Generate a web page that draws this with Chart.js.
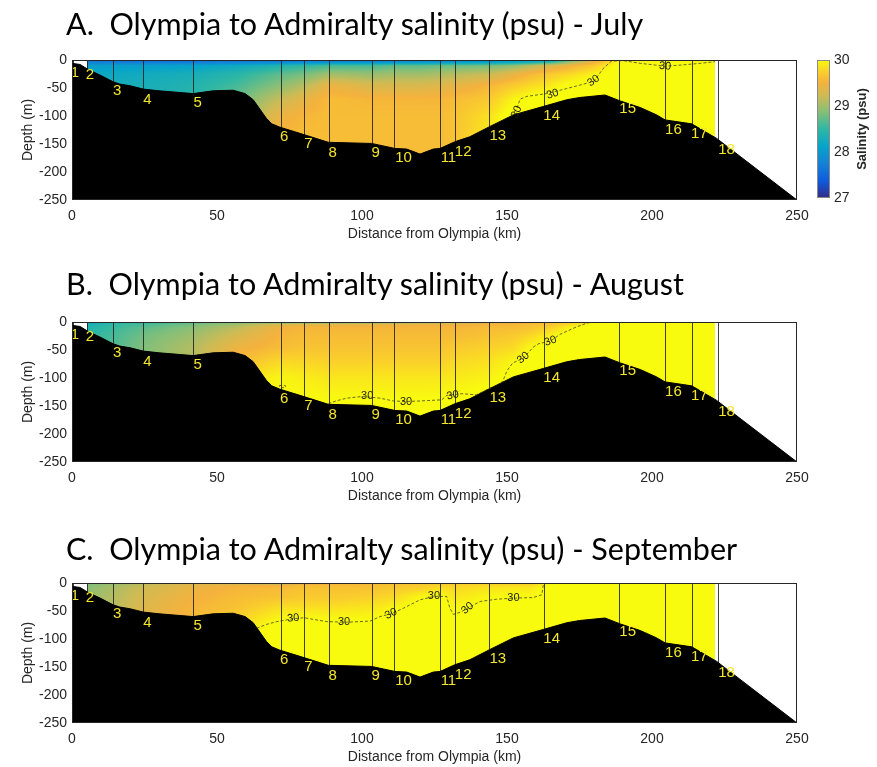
<!DOCTYPE html>
<html>
<head>
<meta charset="utf-8">
<script src="https://cdn.jsdelivr.net/npm/chart.js@4.4.1/dist/chart.umd.min.js"></script>
<style>
  html, body { margin: 0; padding: 0; background: #fff; width: 877px; height: 767px; overflow: hidden; }
  canvas { position: absolute; left: 0; }
  .title { position: absolute; left: 66px; font-family: Lato, "Open Sans", sans-serif; font-size: 30.5px;
           line-height: 40px; color: #000; white-space: pre; z-index: 2; }
</style>
</head>
<body>
<canvas id="julyChart" width="877" height="250" style="top:0px"></canvas>
<canvas id="augustChart" width="877" height="250" style="top:262px"></canvas>
<canvas id="septemberChart" width="877" height="250" style="top:523px"></canvas>
<canvas id="salinityBar" width="97" height="250" style="top:0px; left:780px"></canvas>
<div class="title" style="top:3px">A.  Olympia to Admiralty salinity (psu) - July</div>
<div class="title" style="top:263px">B.  Olympia to Admiralty salinity (psu) - August</div>
<div class="title" style="top:528px">C.  Olympia to Admiralty salinity (psu) - September</div>
<script>
// ---- Section geometry -------------------------------------------------------
const seabedKm    = [0, 2.8, 5.6, 9.7, 14.2, 16.5, 20, 24.6, 30, 41.8, 48.7, 55.6, 59.7, 62.5, 67, 68.9, 71.7, 78.6,
                     88.4, 103.3, 111.4, 115.4, 120, 124.6, 126.9, 132, 137.2, 144, 152.2, 162.5, 170.6, 175,
                     183.8, 189, 196, 201.6, 204.5, 213.7, 222.3, 250];
const seabedDepth = [-6, -8, -17, -27, -39, -43, -46, -52, -55, -60, -55, -54, -60, -71, -104, -114, -120, -131,
                     -147, -149, -158, -159, -168, -159, -158, -146, -137, -119, -98, -83, -71, -67,
                     -62.5, -73, -85, -98, -107, -114, -140, -250];

// CTD stations along the transect
const stationNames      = ['1','2','3','4','5','6','7','8','9','10','11','12','13','14','15','16','17','18'];
const stationKm         = [0.3, 5.1, 14.3, 24.6, 41.8, 72.1, 80, 88.6, 103.3, 111.2, 127, 132, 143.9, 162.8, 188.7, 204.5, 213.8, 222.9];
const stationLabelKm    = [1, 6.2, 15.6, 26, 43.3, 73.2, 81.5, 89.9, 104.7, 114.3, 129.8, 134.9, 146.8, 165.4, 191.6, 207.4, 216.3, 225.7];
const stationLabelDepth = [-23, -27, -55, -71, -76, -138, -150, -165, -165, -174, -174, -164, -136, -100, -88, -125, -132, -160];

// Extent of the gridded salinity section (km)
const sectionStartKm = 5.2;
const sectionEndKm   = 221.7;

// ---- Salinity profiles (psu) -----------------------------------------------
// One profile per grid distance, values at each depth level.
const depthLevels = [0, 4, 10, 25, 45, 70, 100, 130, 170];
const gridKm      = [5, 14, 25, 42, 57, 72, 80, 89, 103, 111, 120, 127, 132, 144, 152, 158, 165, 172, 180, 188, 222];

const salinityJuly = [
  [27.6, 27.75, 28.05, 28.2, 28.2, 28.2, 28.2, 28.2, 28.2],
  [27.55, 27.7, 28.05, 28.2, 28.3, 28.3, 28.3, 28.3, 28.3],
  [27.55, 27.7, 28.05, 28.25, 28.3, 28.3, 28.3, 28.3, 28.3],
  [27.55, 27.7, 28.1, 28.3, 28.4, 28.45, 28.45, 28.45, 28.45],
  [27.55, 27.75, 28.2, 28.45, 28.6, 28.75, 28.9, 29.0, 29.0],
  [27.6, 27.8, 28.4, 28.7, 28.9, 29.2, 29.45, 29.55, 29.55],
  [27.6, 27.85, 28.5, 28.8, 29.1, 29.4, 29.55, 29.6, 29.6],
  [27.65, 27.9, 28.6, 29.0, 29.45, 29.6, 29.6, 29.6, 29.6],
  [27.65, 27.9, 28.6, 28.95, 29.3, 29.55, 29.6, 29.6, 29.6],
  [27.65, 27.95, 28.7, 29.0, 29.3, 29.55, 29.6, 29.6, 29.6],
  [27.7, 28.0, 28.7, 29.0, 29.3, 29.55, 29.6, 29.6, 29.6],
  [27.7, 28.0, 28.75, 29.05, 29.35, 29.55, 29.6, 29.6, 29.6],
  [27.7, 28.05, 28.75, 29.1, 29.4, 29.6, 29.65, 29.65, 29.65],
  [27.8, 28.1, 28.8, 29.2, 29.55, 29.7, 29.85, 29.9, 29.9],
  [27.9, 28.2, 28.9, 29.4, 29.7, 29.95, 30.1, 30.1, 30.1],
  [28.0, 28.3, 29.1, 29.55, 29.8, 30.05, 30.1, 30.1, 30.1],
  [28.0, 28.5, 29.3, 29.7, 29.9, 30.1, 30.1, 30.1, 30.1],
  [28.6, 29.0, 29.5, 29.8, 30.05, 30.1, 30.1, 30.1, 30.1],
  [29.3, 29.5, 29.7, 29.95, 30.1, 30.1, 30.1, 30.1, 30.1],
  [29.9, 29.97, 30.05, 30.1, 30.1, 30.1, 30.1, 30.1, 30.1],
  [29.97, 30.0, 30.05, 30.1, 30.1, 30.1, 30.1, 30.1, 30.1]
];

const salinityAugust = [
  [28.2, 28.3, 28.4, 28.5, 28.5, 28.5, 28.5, 28.5, 28.5],
  [28.4, 28.5, 28.55, 28.6, 28.65, 28.65, 28.65, 28.65, 28.65],
  [28.5, 28.6, 28.7, 28.8, 28.85, 28.85, 28.85, 28.85, 28.85],
  [28.7, 28.8, 28.9, 29.0, 29.1, 29.1, 29.1, 29.1, 29.1],
  [28.8, 29.0, 29.15, 29.3, 29.45, 29.6, 29.85, 29.95, 29.95],
  [28.4, 29.3, 29.5, 29.55, 29.6, 29.8, 29.97, 30.0, 30.05],
  [28.5, 29.35, 29.55, 29.6, 29.65, 29.78, 29.92, 29.98, 30.05],
  [28.5, 29.35, 29.55, 29.6, 29.65, 29.75, 29.88, 29.97, 30.05],
  [28.55, 29.4, 29.55, 29.6, 29.65, 29.75, 29.88, 29.97, 30.1],
  [28.6, 29.4, 29.55, 29.6, 29.65, 29.75, 29.88, 29.97, 30.1],
  [28.65, 29.45, 29.55, 29.6, 29.65, 29.75, 29.88, 29.97, 30.1],
  [28.7, 29.45, 29.55, 29.6, 29.65, 29.75, 29.88, 29.98, 30.1],
  [28.8, 29.45, 29.55, 29.6, 29.7, 29.8, 29.9, 30.0, 30.1],
  [29.1, 29.5, 29.6, 29.65, 29.75, 29.85, 29.95, 30.05, 30.1],
  [29.35, 29.55, 29.6, 29.7, 29.8, 29.97, 30.05, 30.1, 30.1],
  [29.5, 29.6, 29.65, 29.8, 29.97, 30.05, 30.1, 30.1, 30.1],
  [29.6, 29.65, 29.75, 29.95, 30.05, 30.1, 30.1, 30.1, 30.1],
  [29.7, 29.8, 29.97, 30.05, 30.1, 30.1, 30.1, 30.1, 30.1],
  [29.95, 30.0, 30.05, 30.1, 30.1, 30.1, 30.1, 30.1, 30.1],
  [30.05, 30.05, 30.1, 30.1, 30.1, 30.1, 30.1, 30.1, 30.1],
  [30.05, 30.05, 30.1, 30.1, 30.1, 30.1, 30.1, 30.1, 30.1]
];

const salinitySeptember = [
  [28.8, 28.85, 28.9, 28.95, 28.95, 28.95, 28.95, 28.95, 28.95],
  [28.9, 29.0, 29.05, 29.1, 29.1, 29.1, 29.1, 29.1, 29.1],
  [29.1, 29.2, 29.25, 29.3, 29.35, 29.35, 29.35, 29.35, 29.35],
  [29.3, 29.4, 29.45, 29.5, 29.55, 29.6, 29.6, 29.6, 29.6],
  [29.0, 29.5, 29.55, 29.6, 29.65, 29.8, 29.95, 30.0, 30.0],
  [28.7, 29.5, 29.6, 29.65, 29.85, 30.02, 30.1, 30.1, 30.1],
  [29.2, 29.6, 29.65, 29.7, 29.85, 30.05, 30.1, 30.1, 30.1],
  [29.5, 29.6, 29.65, 29.7, 29.85, 30.02, 30.1, 30.1, 30.1],
  [29.55, 29.6, 29.65, 29.75, 29.88, 30.03, 30.1, 30.1, 30.1],
  [29.6, 29.65, 29.7, 29.8, 29.97, 30.05, 30.1, 30.1, 30.1],
  [29.6, 29.7, 29.75, 29.98, 30.05, 30.1, 30.1, 30.1, 30.1],
  [29.65, 29.75, 29.85, 30.02, 30.05, 30.1, 30.1, 30.1, 30.1],
  [29.7, 29.75, 29.8, 29.88, 29.97, 30.05, 30.1, 30.1, 30.1],
  [29.7, 29.8, 29.88, 29.98, 30.05, 30.1, 30.1, 30.1, 30.1],
  [29.7, 29.8, 29.9, 29.99, 30.05, 30.1, 30.1, 30.1, 30.1],
  [29.7, 29.8, 29.9, 29.99, 30.05, 30.1, 30.1, 30.1, 30.1],
  [29.97, 30.0, 30.05, 30.1, 30.1, 30.1, 30.1, 30.1, 30.1],
  [30.05, 30.05, 30.1, 30.1, 30.1, 30.1, 30.1, 30.1, 30.1],
  [30.05, 30.05, 30.1, 30.1, 30.1, 30.1, 30.1, 30.1, 30.1],
  [30.05, 30.05, 30.1, 30.1, 30.1, 30.1, 30.1, 30.1, 30.1],
  [30.05, 30.05, 30.1, 30.1, 30.1, 30.1, 30.1, 30.1, 30.1]
];

// ---- 30 psu isohaline (km, depth) and its labels ---------------------------
const isohalineJuly = [
  [[151.6, -101], [153.5, -85], [154.5, -70], [156.8, -65], [163.7, -60], [170.6, -51], [175, -45], [180, -38],
   [183.2, -15], [186, -2], [190, -1], [196, -6], [204.5, -11], [210, -9], [216.6, -6], [221.7, -3]]
];
const isohalineJulyLabels = [[153.3, -93], [165.7, -61], [179.8, -37], [204.5, -11]];
const isohalineJulyAngles = [-65, -15, -35, 5];

const isohalineAugust = [
  [[71.4, -114], [72.6, -112.5], [73.8, -114.5], [73.2, -117.5], [71.8, -117], [71.4, -114]],
  [[88.4, -146], [91, -141], [94.7, -136], [100, -133], [106.2, -136], [110.8, -141], [115, -142], [120, -141],
   [127.5, -139], [129.2, -131], [134.4, -128], [139.5, -130], [145, -116]],
  [[148, -110], [149, -100], [150, -87], [152, -73], [155.6, -65], [159, -45], [160.8, -39], [165, -34],
   [168.3, -22], [173.4, -10], [177, -3], [179, 0]]
];
const isohalineAugustLabels = [[101.8, -132], [115.2, -143], [131.3, -131], [155.6, -64], [165, -34]];
const isohalineAugustAngles = [0, 0, -10, -40, -20];

const isohalineSeptember = [
  [[63.7, -81], [67, -74], [70.6, -69], [76, -64], [80, -62], [87.8, -69], [95, -70], [102.8, -68], [106.2, -60],
   [110, -55], [114.3, -45], [120, -30], [124.8, -24], [129.2, -24], [130.3, -45], [131.5, -56], [134, -52],
   [136.4, -45], [140.7, -33], [146.4, -29], [152.2, -27], [159, -26], [162, -21], [162.5, -4], [163, -1]]
];
const isohalineSeptemberLabels = [[76.3, -63], [93.8, -70], [110, -55], [124.8, -23], [136.4, -45], [152.2, -27]];
const isohalineSeptemberAngles = [-5, 0, -25, 0, -40, 0];

// ---- Colour map (parula) ------------------------------------------------------
const salinityMin = 27, salinityMax = 30;
const parulaStops = [
  [0.000, 53, 42, 135], [0.125, 15, 92, 221], [0.250, 20, 129, 214], [0.375, 6, 164, 202],
  [0.500, 46, 183, 164], [0.625, 135, 191, 119], [0.740, 205, 187, 85], [0.840, 245, 178, 60],
  [0.920, 250, 210, 42], [1.000, 249, 251, 14]
];
function parula(v) {
  let t = (v - salinityMin) / (salinityMax - salinityMin);
  t = Math.max(0, Math.min(1, t));
  for (let i = 0; i < parulaStops.length - 1; i++) {
    const a = parulaStops[i], b = parulaStops[i + 1];
    if (t <= b[0]) {
      const f = (t - a[0]) / (b[0] - a[0]);
      return [a[1] + (b[1] - a[1]) * f, a[2] + (b[2] - a[2]) * f, a[3] + (b[3] - a[3]) * f];
    }
  }
  const l = parulaStops[parulaStops.length - 1];
  return [l[1], l[2], l[3]];
}

// ---- Plugins ----------------------------------------------------------------
// Shaded salinity section, painted under the seabed.
const sectionPlugin = {
  id: 'section',
  beforeDatasetsDraw(chart, args, opts) {
    const { ctx, chartArea: a, scales: { x, y } } = chart;
    const x0 = Math.round(x.getPixelForValue(opts.startKm));
    const x1 = Math.round(x.getPixelForValue(opts.endKm));
    const top = Math.round(a.top), bottom = Math.round(a.bottom);
    const w = x1 - x0, h = bottom - top;
    const off = document.createElement('canvas');
    off.width = w; off.height = h;
    const octx = off.getContext('2d');
    const img = octx.createImageData(w, h);
    const km = opts.km, dep = opts.depths, P = opts.profiles;
    const rowIdx = [], rowFrac = [];
    for (let j = 0; j < h; j++) {
      const d = -y.getValueForPixel(top + j + 0.5);
      let r = 0;
      while (r < dep.length - 2 && d > dep[r + 1]) r++;
      let f = (d - dep[r]) / (dep[r + 1] - dep[r]);
      rowIdx.push(r); rowFrac.push(Math.max(0, Math.min(1, f)));
    }
    for (let i = 0; i < w; i++) {
      const k = x.getValueForPixel(x0 + i + 0.5);
      let c = 0;
      while (c < km.length - 2 && k > km[c + 1]) c++;
      let g = (k - km[c]) / (km[c + 1] - km[c]);
      g = Math.max(0, Math.min(1, g));
      const A = P[c], B = P[c + 1];
      for (let j = 0; j < h; j++) {
        const r = rowIdx[j], f = rowFrac[j];
        const va = A[r] + (A[r + 1] - A[r]) * f;
        const vb = B[r] + (B[r + 1] - B[r]) * f;
        const col = parula(va + (vb - va) * g);
        const p = (j * w + i) * 4;
        img.data[p] = col[0]; img.data[p + 1] = col[1]; img.data[p + 2] = col[2]; img.data[p + 3] = 255;
      }
    }
    octx.putImageData(img, 0, 0);
    ctx.drawImage(off, x0, top);
  }
};

// Station casts (vertical lines) and their numbers.
const stationPlugin = {
  id: 'stations',
  beforeDatasetsDraw(chart) {
    const { ctx, scales: { x, y } } = chart;
    ctx.save();
    ctx.strokeStyle = 'rgba(30,30,30,0.85)';
    ctx.lineWidth = 1;
    stationKm.forEach(k => {
      const px = Math.round(x.getPixelForValue(k)) + 0.5;
      ctx.beginPath();
      ctx.moveTo(px, y.getPixelForValue(0));
      ctx.lineTo(px, y.getPixelForValue(-250));
      ctx.stroke();
    });
    ctx.restore();
  },
  afterDatasetsDraw(chart) {
    const { ctx, scales: { x, y } } = chart;
    ctx.save();
    ctx.fillStyle = '#f4e62a';
    ctx.font = '15px "Liberation Sans", Arial, sans-serif';
    ctx.textAlign = 'center';
    ctx.textBaseline = 'middle';
    stationNames.forEach((name, i) => {
      ctx.fillText(name, x.getPixelForValue(stationLabelKm[i]), y.getPixelForValue(stationLabelDepth[i]));
    });
    ctx.restore();
  }
};

// "30" labels on the isohaline.
const isohalineLabelPlugin = {
  id: 'isohalineLabels',
  afterDatasetsDraw(chart, args, opts) {
    const { ctx, chartArea: a, scales: { x, y } } = chart;
    ctx.save();
    ctx.beginPath();
    ctx.rect(a.left, a.top, a.right - a.left, a.bottom - a.top);
    ctx.clip();
    ctx.fillStyle = '#1e1e1e';
    ctx.font = '11px "Liberation Sans", Arial, sans-serif';
    ctx.textAlign = 'center';
    ctx.textBaseline = 'middle';
    (opts.positions || []).forEach((p, i) => {
      ctx.save();
      ctx.translate(x.getPixelForValue(p[0]), y.getPixelForValue(p[1]));
      ctx.rotate((opts.angles[i] || 0) * Math.PI / 180);
      ctx.fillText('30', 0, 0);
      ctx.restore();
    });
    ctx.restore();
  }
};

// Axes box.
const framePlugin = {
  id: 'frame',
  afterDraw(chart) {
    const { ctx, chartArea: a } = chart;
    ctx.save();
    ctx.strokeStyle = '#262626';
    ctx.lineWidth = 1;
    ctx.strokeRect(Math.round(a.left) + 0.5, Math.round(a.top) + 0.5,
                   Math.round(a.right - a.left) - 1, Math.round(a.bottom - a.top) - 1);
    ctx.restore();
  }
};

Chart.defaults.font.family = '"Liberation Sans", Arial, sans-serif';
Chart.defaults.font.size = 14;
Chart.defaults.color = '#262626';

function seabedPoints() {
  return seabedKm.map((k, i) => ({ x: k, y: seabedDepth[i] }));
}

function makeSection(canvasId, profiles, isohalines, labelPos, labelAngles) {
  const datasets = [{
    label: 'Seabed',
    data: seabedPoints(),
    borderColor: '#000',
    backgroundColor: '#000',
    borderWidth: 1,
    pointRadius: 0,
    fill: 'start',
    tension: 0,
    order: 3
  }];
  isohalines.forEach((line, i) => {
    datasets.push({
      label: '30 psu ' + (i + 1),
      data: line.map(p => ({ x: p[0], y: p[1] })),
      borderColor: 'rgba(50,50,50,0.9)',
      borderWidth: 0.8,
      borderDash: [3, 2],
      pointRadius: 0,
      fill: false,
      tension: 0,
      order: 1
    });
  });
  return new Chart(document.getElementById(canvasId), {
    type: 'line',
    data: { datasets },
    options: {
      responsive: false,
      animation: false,
      events: [],
      layout: { padding: { top: 60, right: 80, left: 0, bottom: 0 } },
      scales: {
        x: {
          type: 'linear', min: 0, max: 250,
          ticks: { stepSize: 50, padding: 8, maxRotation: 0 },
          grid: { display: false, drawTicks: false },
          border: { display: false },
          title: { display: true, text: 'Distance from Olympia (km)', padding: { top: 0, bottom: 7 } },
          afterFit(s) { s.height = 50; }
        },
        y: {
          type: 'linear', min: -250, max: 0,
          ticks: { stepSize: 50, padding: 5 },
          grid: { display: false, drawTicks: false },
          border: { display: false },
          title: { display: true, text: 'Depth (m)', padding: { top: 20, bottom: 0 } },
          afterFit(s) { s.width = 72; }
        }
      },
      plugins: {
        legend: { display: false },
        tooltip: { enabled: false },
        section: { km: gridKm, depths: depthLevels, profiles, startKm: sectionStartKm, endKm: sectionEndKm },
        isohalineLabels: { positions: labelPos, angles: labelAngles }
      }
    },
    plugins: [sectionPlugin, stationPlugin, isohalineLabelPlugin, framePlugin]
  });
}

makeSection('julyChart', salinityJuly, isohalineJuly, isohalineJulyLabels, isohalineJulyAngles);
makeSection('augustChart', salinityAugust, isohalineAugust, isohalineAugustLabels, isohalineAugustAngles);
makeSection('septemberChart', salinitySeptember, isohalineSeptember, isohalineSeptemberLabels, isohalineSeptemberAngles);

// ---- Colour bar ---------------------------------------------------------------
const colorbarTicks = [27, 28, 29, 30];
const colorbarPlugin = {
  id: 'colorbar',
  beforeDraw(chart) {
    const { ctx, chartArea: a, scales: { y } } = chart;
    const g = ctx.createLinearGradient(0, y.getPixelForValue(salinityMin), 0, y.getPixelForValue(salinityMax));
    parulaStops.forEach(s => g.addColorStop(s[0], `rgb(${s[1]},${s[2]},${s[3]})`));
    ctx.save();
    ctx.fillStyle = g;
    ctx.fillRect(a.left, a.top, a.right - a.left, a.bottom - a.top);
    ctx.strokeStyle = '#8a8a8a';
    ctx.lineWidth = 1;
    ctx.strokeRect(Math.round(a.left) + 0.5, Math.round(a.top) + 0.5,
                   Math.round(a.right - a.left) - 1, Math.round(a.bottom - a.top) - 1);
    ctx.restore();
  },
  afterDraw(chart) {
    const { ctx, chartArea: a } = chart;
    ctx.save();
    ctx.translate(82, (a.top + a.bottom) / 2);
    ctx.rotate(-Math.PI / 2);
    ctx.fillStyle = '#262626';
    ctx.font = 'bold 13px "Liberation Sans", Arial, sans-serif';
    ctx.textAlign = 'center';
    ctx.textBaseline = 'middle';
    ctx.fillText('Salinity (psu)', 0, 0);
    ctx.restore();
  }
};

new Chart(document.getElementById('salinityBar'), {
  type: 'scatter',
  data: { datasets: [] },
  options: {
    responsive: false,
    animation: false,
    events: [],
    layout: { padding: { top: 60, bottom: 52, left: 37, right: 0 } },
    scales: {
      x: { display: false, min: 0, max: 1 },
      y: {
        position: 'right', min: salinityMin, max: salinityMax,
        afterBuildTicks(s) { s.ticks = colorbarTicks.map(v => ({ value: v })); },
        ticks: { padding: 4 },
        grid: { display: false, drawTicks: false },
        border: { display: false },
        afterFit(s) { s.width = 47; }
      }
    },
    plugins: { legend: { display: false }, tooltip: { enabled: false } }
  },
  plugins: [colorbarPlugin]
});
</script>
</body>
</html>
